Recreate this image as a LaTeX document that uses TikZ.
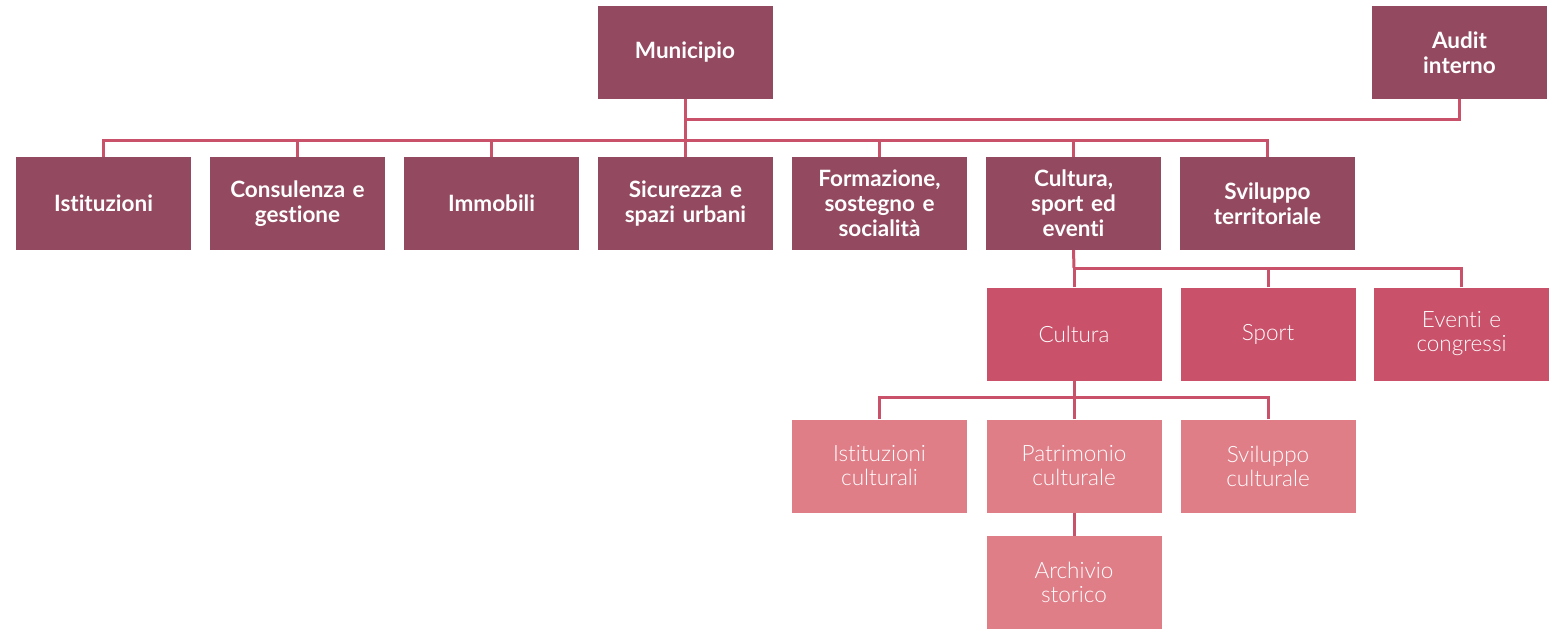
\documentclass[tikz,border=0pt]{standalone}
\usepackage{fontspec}
\setmainfont{Lato}[Ligatures=NoCommon]
\newfontfamily\lightfont{Lato}[UprightFont=* Light, Ligatures=NoCommon]
\usepackage{tikz}
\definecolor{plum}{HTML}{934A60}
\definecolor{rosso}{HTML}{C9516A}
\definecolor{rosa}{HTML}{E07E88}
\tikzset{
  box/.style={minimum width=175pt, minimum height=93pt, inner sep=0pt, text=white, align=center, text width=170pt},
  top/.style={box, fill=plum, font=\fontsize{22.5}{25}\selectfont\bfseries},
  mid/.style={box, fill=rosso, font=\fontsize{22.5}{24}\selectfont\lightfont},
  low/.style={box, fill=rosa, font=\fontsize{22.5}{24}\selectfont\lightfont},
  link/.style={draw=rosso, line width=3pt}
}

\begin{document}
\begin{tikzpicture}[x=1pt,y=-1pt]
    \useasboundingbox (0,0) rectangle (1556,629);
    \node[top] (mun) at (685,52.5) {Municipio};
    \node[top] (audit) at (1459.5,52.5) {Audit\\interno};
    \node[top] (ist) at (103.5,203.5) {Istituzioni};
    \node[top] (cons) at (297.5,203.5) {Consulenza e\\gestione};
    \node[top] (imm) at (491.5,203.5) {Immobili};
    \node[top] (sic) at (685.5,203.5) {Sicurezza e\\spazi urbani};
    \node[top] (form) at (879.5,203.5) {Formazione,\\sostegno e\\socialità};
    \node[top] (css) at (1073.5,203.5) {Cultura,\\sport ed\\eventi};
    \node[top] (svil) at (1267.5,203.5) {Sviluppo\\territoriale};
    \node[mid] (cult) at (1074,334) {Cultura};
    \node[mid] (sport) at (1268,334) {Sport};
    \node[mid] (even) at (1461.5,334) {Eventi e\\congressi};
    \node[low] (istc) at (879.5,466) {Istituzioni\\culturali};
    \node[low] (patr) at (1074,466) {Patrimonio\\culturale};
    \node[low] (svc) at (1268,466) {Sviluppo\\culturale};
    \node[low] (arch) at (1074,582.5) {Archivio\\storico};
    \coordinate (a1) at (685,119);
    \coordinate (b1) at (685,140);
    \coordinate (b2) at (1074,268);
    \coordinate (b3) at (1074,397);
    \draw[link] (mun.south) -- (b1);
    \draw[link] (a1) -| (audit.south);
    \foreach \n in {ist,cons,imm,sic,form,css,svil}
        \draw[link] (\n.north) |- (b1);
    \draw[link] (css.south) -- (b2);
    \foreach \n in {cult,sport,even}
        \draw[link] (\n.north) |- (b2);
    \draw[link] (cult.south) -- (b3);
    \foreach \n in {istc,patr,svc}
        \draw[link] (\n.north) |- (b3);
    \draw[link] (patr.south) -- (arch.north);
\end{tikzpicture}
\end{document}
